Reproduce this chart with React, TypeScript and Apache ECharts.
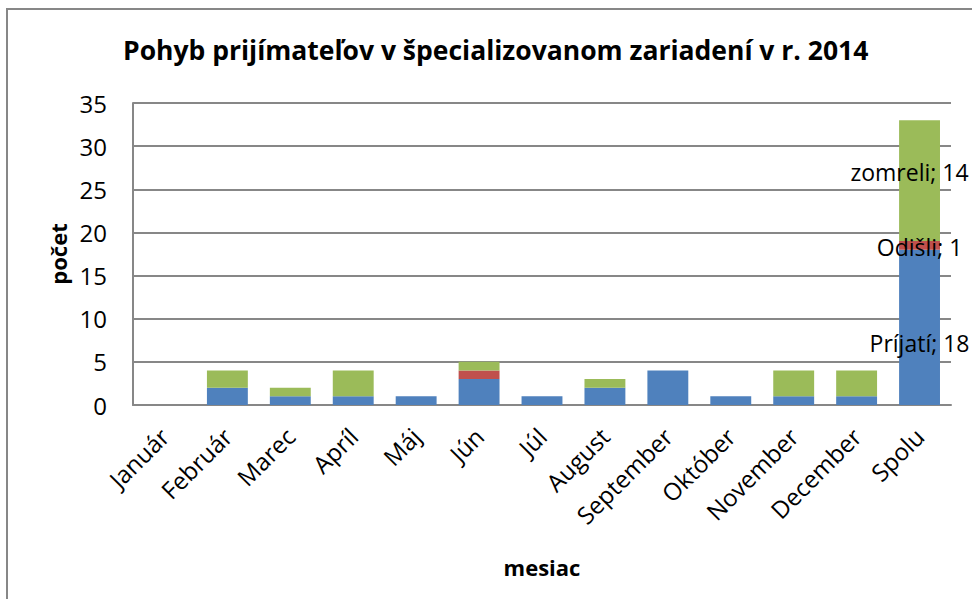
import React, { useEffect, useRef } from "react";
import * as echarts from "echarts";

const categories = ["Január", "Február", "Marec", "Apríl", "Máj", "Jún", "Júl", "August", "September", "Október", "November", "December", "Spolu"];
const prijati = [0, 2, 1, 1, 1, 3, 1, 2, 4, 1, 1, 1, 18];
const odisli = [0, 0, 0, 0, 0, 1, 0, 0, 0, 0, 0, 0, 1];
const zomreli = [0, 2, 1, 3, 0, 1, 0, 1, 0, 0, 3, 3, 14];
const seriesNames = ["Príjatí", "Odišli", "zomreli"];
const colors = ["#4F81BD", "#C0504D", "#9BBB59"];
const labelOffsets = [[0, 16], [0, 2], [-10, -9]];

const FONT = "'Open Sans', sans-serif";

export default function App() {
  const ref = useRef<HTMLDivElement>(null);
  useEffect(() => {
    const chart = echarts.init(ref.current!, null, { renderer: "svg" });
    const values = [prijati, odisli, zomreli];
    const last = categories.length - 1;
    chart.setOption({
      animation: false,
      title: {
        text: "Pohyb prijímateľov v špecializovanom zariadení v r. 2014",
        left: 118,
        top: 31,
        textStyle: { fontFamily: FONT, fontWeight: "bold", fontSize: 26.5, color: "#000" },
      },
      graphic: [
        {
          type: "rect",
          shape: { x: 7, y: 9, width: 1000, height: 1000 },
          style: { fill: "none", stroke: "#878787", lineWidth: 2 },
          silent: true,
        },
      ],
      grid: { left: 133, top: 103, right: 21, bottom: 194, containLabel: false },
      xAxis: {
        type: "category",
        data: categories,
        name: "mesiac",
        nameLocation: "middle",
        nameGap: 151,
        nameTextStyle: { fontFamily: FONT, fontWeight: "bold", fontSize: 22, color: "#000" },
        axisLine: { lineStyle: { color: "#878787", width: 2 } },
        axisTick: { show: false },
        axisLabel: { rotate: 45, margin: 27, interval: 0, fontFamily: FONT, fontSize: 24, color: "#000" },
      },
      yAxis: {
        type: "value",
        min: 0,
        max: 35,
        interval: 5,
        name: "počet",
        nameLocation: "middle",
        nameGap: 64,
        nameRotate: 90,
        nameTextStyle: { fontFamily: FONT, fontWeight: "bold", fontSize: 22, color: "#000" },
        axisLine: { show: true, lineStyle: { color: "#878787", width: 2 } },
        axisTick: { show: false },
        splitLine: { lineStyle: { color: "#878787", width: 2 } },
        axisLabel: { margin: 26, fontFamily: FONT, fontSize: 24, color: "#000" },
      },
      series: seriesNames.map((name, i) => ({
        name,
        type: "bar",
        stack: "total",
        barCategoryGap: "35%",
        itemStyle: { color: colors[i] },
        data: values[i].map((v, j) =>
          j === last
            ? {
                value: v,
                label: {
                  show: true,
                  position: "inside",
                  offset: labelOffsets[i],
                  formatter: "{a}; {c}",
                  fontFamily: FONT,
                  fontSize: 23,
                  color: "#000",
                },
              }
            : v
        ),
      })),
    });
    return () => chart.dispose();
  }, []);
  return <div ref={ref} style={{ position: "fixed", left: 0, top: 0, width: 972, height: 599, background: "#fff" }} />;
}
